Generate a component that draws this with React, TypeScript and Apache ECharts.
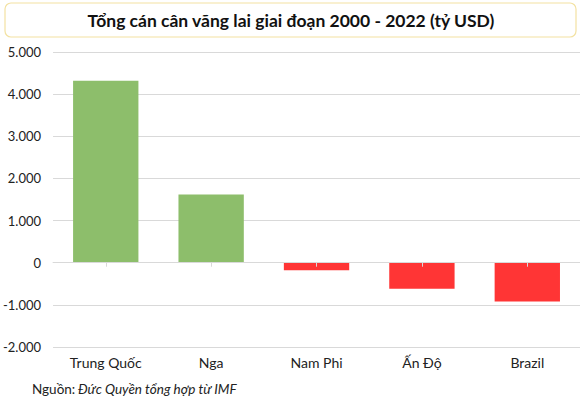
import React, { useEffect, useRef } from "react";
import * as echarts from "echarts";

const title = "Tổng cán cân vãng lai giai đoạn 2000 - 2022 (tỷ USD)";
const categories = ["Trung Quốc", "Nga", "Nam Phi", "Ấn Độ", "Brazil"];
const values = [4320, 1620, -180, -620, -920];
const sourceLabel = "Nguồn: ";
const sourceText = "Đức Quyền tổng hợp từ IMF";

const GREEN = "#8dbe6b";
const RED = "#ff3535";
const FONT = "Lato, 'Noto Sans', sans-serif";

const fmt = (v: number) => {
  const s = Math.abs(v).toString().replace(/\B(?=(\d{3})+(?!\d))/g, ".");
  return (v < 0 ? "-" : "") + s;
};

export default function App() {
  const ref = useRef<HTMLDivElement>(null);
  useEffect(() => {
    const chart = echarts.init(ref.current!, null, { renderer: "svg" });
    chart.setOption({
      animation: false,
      backgroundColor: "#ffffff",
      grid: { left: 52, right: 0, top: 52, bottom: 59, containLabel: false },
      graphic: [
        {
          type: "rect",
          shape: { x: 5, y: 3, width: 571, height: 34, r: 6 },
          style: { fill: "#ffffff", stroke: "#f3e2a2", lineWidth: 1.2 },
        },
        {
          type: "text",
          x: 291,
          y: 20,
          style: {
            text: title,
            font: `bold 17.5px ${FONT}`,
            fill: "#111111",
            align: "center",
            verticalAlign: "middle",
          },
        },
        {
          type: "text",
          x: 32,
          y: 389,
          style: {
            text: sourceLabel,
            font: `13.5px ${FONT}`,
            fill: "#222222",
            align: "left",
            verticalAlign: "middle",
          },
        },
        {
          type: "text",
          x: 78,
          y: 389,
          style: {
            text: sourceText,
            font: `italic 13.5px ${FONT}`,
            fill: "#222222",
            align: "left",
            verticalAlign: "middle",
          },
        },
      ],
      xAxis: [
        {
          type: "category",
          data: categories,
          position: "bottom",
          axisLine: { show: false, onZero: false },
          axisTick: { show: false },
          axisLabel: { color: "#222222", fontSize: 14, fontFamily: FONT, margin: 8 },
        },
        {
          type: "category",
          data: categories,
          position: "bottom",
          axisLine: { show: true, onZero: true, lineStyle: { color: "#d9d9d9", width: 1 } },
          axisTick: { show: true, alignWithLabel: true, length: 4, lineStyle: { color: "#d9d9d9" } },
          axisLabel: { show: false },
          z: 5,
        },
      ],
      yAxis: {
        type: "value",
        min: -2000,
        max: 5000,
        interval: 1000,
        axisLine: { show: false },
        axisTick: { show: false },
        splitLine: { lineStyle: { color: "#d9d9d9", width: 1 } },
        axisLabel: {
          color: "#222222",
          fontSize: 13,
          fontFamily: FONT,
          margin: 12,
          formatter: (v: number) => fmt(v),
        },
      },
      series: [
        {
          type: "bar",
          xAxisIndex: 0,
          barWidth: "62%",
          data: values.map((v) => ({
            value: v,
            itemStyle: { color: v >= 0 ? GREEN : RED },
          })),
          z: 2,
        },
      ],
    });
    return () => chart.dispose();
  }, []);
  return (
    <div
      ref={ref}
      style={{ position: "fixed", left: 0, top: 0, width: 580, height: 406 }}
    />
  );
}
